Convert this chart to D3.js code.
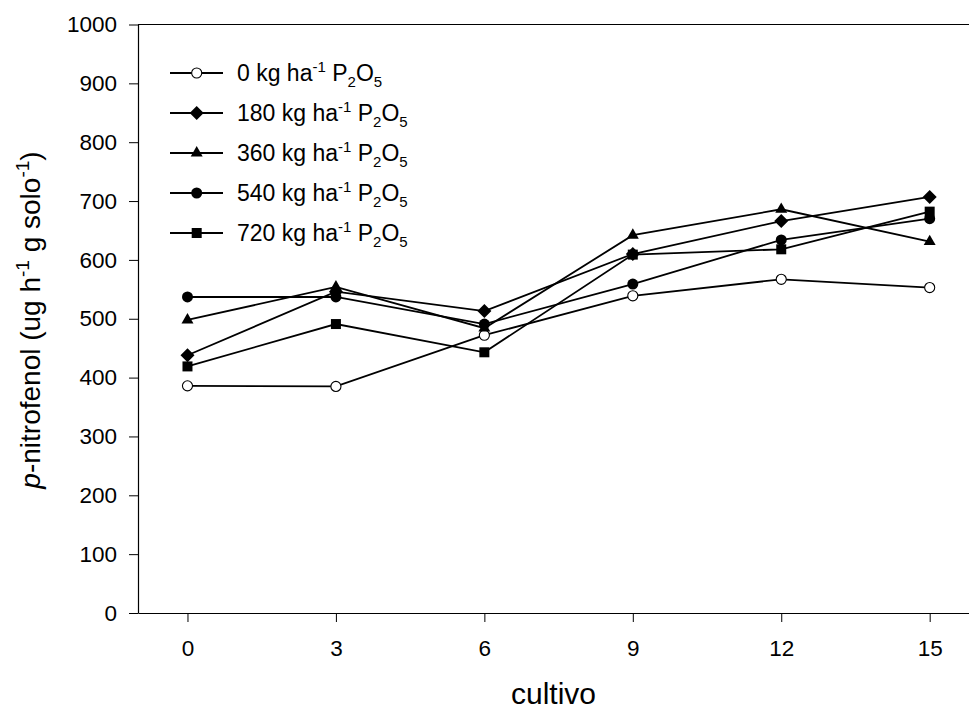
<!DOCTYPE html>
<html><head><meta charset="utf-8">
<script src="https://cdn.jsdelivr.net/npm/d3@7"></script>
<style>body{margin:0;background:#fff}svg{display:block;font-family:"Liberation Sans",Arial,sans-serif}</style>
</head><body><svg id="c" width="969" height="711"></svg>
<script>
// ---- data ----
const cultivo = [0, 3, 6, 9, 12, 15];
const doses = ["0", "180", "360", "540", "720"];
const s0   = [386, 385, 472, 539, 567, 553];
const s180 = [438, 546, 513, 610, 666, 707];
const s360 = [498, 554, 484, 642, 686, 631];
const s540 = [537, 537, 491, 559, 634, 670];
const s720 = [419, 491, 443, 609, 618, 682];
const seriesValues = [s0, s180, s360, s540, s720];
const symbolKinds = ["openCircle", "diamond", "triangle", "circle", "square"];
const yTicks = [0, 100, 200, 300, 400, 500, 600, 700, 800, 900, 1000];
const xTicks = [0, 3, 6, 9, 12, 15];

// ---- layout ----
const svg = d3.select("#c");
const L = 138, T = 24.5, B = 613, unit = 49.48;
const x = d3.scaleLinear().domain([-1, 16]).range([L, L + 17 * unit]);
const y = d3.scaleLinear().domain([0, 1000]).range([B, T]);
const ink = "#000";

// frame top line
svg.append("line").attr("x1", L).attr("x2", 969).attr("y1", T).attr("y2", T)
  .attr("stroke", ink).attr("stroke-width", 1.2);

const xa = svg.append("g").attr("transform", `translate(0,${B})`)
  .call(d3.axisBottom(x).tickValues(xTicks).tickFormat(d3.format("d")).tickSize(9).tickSizeOuter(0).tickPadding(18));
const ya = svg.append("g").attr("transform", `translate(${L},0)`)
  .call(d3.axisLeft(y).tickValues(yTicks).tickFormat(d3.format("d")).tickSize(9).tickSizeOuter(0).tickPadding(12));
[xa, ya].forEach(g => {
  g.select(".domain").attr("stroke", ink).attr("stroke-width", 1.2);
  g.selectAll(".tick line").attr("stroke", ink).attr("stroke-width", 1);
  g.selectAll(".tick text").attr("fill", ink).style("font-size", "22.5px")
   .style("font-family", '"Liberation Sans",Arial,sans-serif');
});

// symbol generator
function symPath(kind) {
  switch (kind) {
    case "openCircle": return d3.symbol(d3.symbolCircle, 80)();
    case "circle": return d3.symbol(d3.symbolCircle, 95)();
    case "diamond": return d3.symbol(d3.symbolSquare, 98)();
    case "triangle": return d3.symbol(d3.symbolTriangle, 62)();
    case "square": return d3.symbol(d3.symbolSquare, 100)();
  }
}
function drawSym(g, kind, cx, cy) {
  const p = g.append("path").attr("d", symPath(kind))
    .attr("transform", `translate(${cx},${cy})` + (kind === "diamond" ? " rotate(45)" : ""));
  if (kind === "openCircle") p.attr("fill", "#fff").attr("stroke", ink).attr("stroke-width", 1.1);
  else p.attr("fill", ink);
}

const line = d3.line().x((d, i) => x(cultivo[i])).y(d => y(d));
const plot = svg.append("g");
seriesValues.forEach((vals, si) => {
  plot.append("path").attr("d", line(vals)).attr("fill", "none")
    .attr("stroke", ink).attr("stroke-width", 1.8);
});
seriesValues.forEach((vals, si) => {
  vals.forEach((v, i) => drawSym(plot, symbolKinds[si], x(cultivo[i]), y(v)));
});

// legend
const lg = svg.append("g");
doses.forEach((d, i) => {
  const cy = 73 + i * 40;
  lg.append("line").attr("x1", 170).attr("x2", 223).attr("y1", cy).attr("y2", cy)
    .attr("stroke", ink).attr("stroke-width", 1.8);
  drawSym(lg, symbolKinds[i], 196.7, cy);
  const t = lg.append("text").attr("x", 237).attr("y", cy + 8).attr("fill", ink)
    .style("font-size", "23px");
  t.append("tspan").text(d + " kg ha");
  t.append("tspan").attr("dy", -9).style("font-size", "15px").text("-1");
  t.append("tspan").attr("dy", 9).text(" P");
  t.append("tspan").attr("dy", 6).style("font-size", "15px").text("2");
  t.append("tspan").attr("dy", -6).text("O");
  t.append("tspan").attr("dy", 6).style("font-size", "15px").text("5");
});

// axis titles
svg.append("text").attr("x", 553.5).attr("y", 704).attr("text-anchor", "middle")
  .attr("fill", ink).style("font-size", "30px").text("cultivo");

const yl = svg.append("text").attr("transform", "translate(40,320) rotate(-90)")
  .attr("text-anchor", "middle").attr("fill", ink).style("font-size", "28px");
yl.append("tspan").style("font-style", "italic").text("p");
yl.append("tspan").text("-nitrofenol (ug h");
yl.append("tspan").attr("dy", -11).style("font-size", "19px").text("-1");
yl.append("tspan").attr("dy", 11).text(" g solo");
yl.append("tspan").attr("dy", -11).style("font-size", "19px").text("-1");
yl.append("tspan").attr("dy", 11).text(")");
</script></body></html>
